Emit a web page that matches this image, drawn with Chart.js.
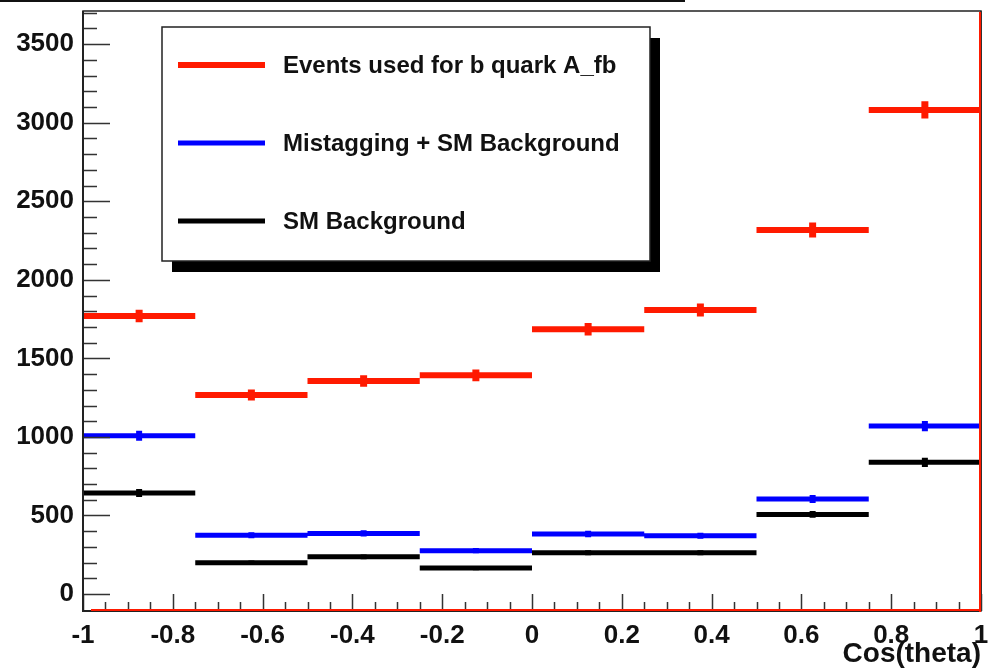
<!DOCTYPE html>
<html>
<head>
<meta charset="utf-8">
<script src="https://cdn.jsdelivr.net/npm/chart.js@4.4.1/dist/chart.umd.min.js"></script>
<style>
  html, body { margin: 0; padding: 0; background: #fff; }
  #wrap { width: 1000px; height: 671px; position: relative; }
</style>
</head>
<body>
<div id="wrap"><canvas id="chart" width="1000" height="671"></canvas></div>
<script>
// bin edges along cos(theta)
const binEdges = [-1, -0.75, -0.5, -0.25, 0, 0.25, 0.5, 0.75, 1];

const seriesLabels = ['Events used for b quark A_fb', 'Mistagging + SM Background', 'SM Background'];
const seriesColors = ['#ff1a00', '#0000ff', '#000000'];

const eventsUsed = [1770, 1267, 1356, 1392, 1685, 1808, 2317, 3081];
const eventsErr = [40, 35, 37, 37, 40, 42, 48, 55];
const mistagBkg = [1008, 374, 386, 276, 382, 371, 605, 1069];
const mistagErr = [32, 19, 20, 17, 20, 19, 25, 33];
const smBkg = [643, 199, 237, 165, 263, 263, 507, 838];
const smErr = [25, 14, 15, 13, 16, 16, 22, 29];

const yTickVals = [0, 500, 1000, 1500, 2000, 2500, 3000, 3500];
const xTickVals = [-1, -0.8, -0.6, -0.4, -0.2, 0, 0.2, 0.4, 0.6, 0.8, 1];
const xTitle = 'Cos(theta)';

const ctx = document.querySelector('#chart').getContext('2d');
const FONT = '"Liberation Sans", Arial, sans-serif';

function histPoints(vals) {
    const pts = [];
    for (let i = 0; i < vals.length; i++) {
        pts.push({ x: binEdges[i], y: vals[i] });
        pts.push({ x: binEdges[i + 1], y: vals[i] });
        pts.push({ x: binEdges[i + 1], y: null });
    }
    return pts;
}

function errPoints(vals, errs) {
    const pts = [];
    for (let i = 0; i < vals.length; i++) {
        const c = (binEdges[i] + binEdges[i + 1]) / 2;
        pts.push({ x: c, y: vals[i] - errs[i] });
        pts.push({ x: c, y: vals[i] + errs[i] });
        pts.push({ x: c, y: null });
    }
    return pts;
}

function lineSet(label, pts, color, width) {
    return {
        label: label,
        data: pts,
        borderColor: color,
        backgroundColor: color,
        borderWidth: width,
        borderCapStyle: 'butt',
        pointRadius: 0,
        spanGaps: false,
        tension: 0
    };
}

const datasets = [
    lineSet(seriesLabels[2], histPoints(smBkg), seriesColors[2], 5),
    lineSet('', errPoints(smBkg, smErr), seriesColors[2], 6),
    lineSet(seriesLabels[1], histPoints(mistagBkg), seriesColors[1], 5),
    lineSet('', errPoints(mistagBkg, mistagErr), seriesColors[1], 6),
    lineSet(seriesLabels[0], histPoints(eventsUsed), seriesColors[0], 6),
    lineSet('', errPoints(eventsUsed, eventsErr), seriesColors[0], 7),
];

// ROOT-style frame, inward ticks and boxed legend with shadow
const rootDecor = {
    id: 'rootDecor',
    afterDatasetsDraw(chart) {
        const c = chart.ctx;
        const a = chart.chartArea;
        const xs = chart.scales.x;
        const ys = chart.scales.y;
        c.save();

        // stray border line at the very top
        c.fillStyle = '#111';
        c.fillRect(0, 0, 685, 2);

        // ticks
        c.strokeStyle = '#333';
        c.lineWidth = 1.5;
        c.beginPath();
        for (let v = 0; v <= 3700; v += 100) {
            const py = Math.round(ys.getPixelForValue(v)) + 0.5;
            if (py < a.top) continue;
            const len = v % 500 === 0 ? 27 : 14;
            c.moveTo(a.left, py);
            c.lineTo(a.left + len, py);
        }
        for (let k = -20; k <= 20; k++) {
            const v = k * 0.05;
            const px = Math.round(xs.getPixelForValue(v)) + 0.5;
            const len = k % 4 === 0 ? 17 : 9;
            c.moveTo(px, a.bottom);
            c.lineTo(px, a.bottom - len);
        }
        c.stroke();

        // frame
        c.strokeStyle = '#222';
        c.lineWidth = 1.5;
        c.strokeRect(a.left, a.top, a.right - a.left, a.bottom - a.top);
        c.fillStyle = '#222';
        c.fillRect(a.left - 1, a.top, 2, a.bottom - a.top + 1);
        c.fillRect(a.left, a.bottom - 1, a.right - a.left, 2);
        c.fillStyle = '#ff1a00';
        c.fillRect(a.right - 2, a.top + 1, 2, a.bottom - a.top);
        c.fillRect(a.left + 8, a.bottom - 2, a.right - a.left - 8, 2);
        c.fillStyle = '#333';
        c.fillRect(a.right, a.top, 1, a.bottom - a.top);

        // legend box
        const bx = 162, by = 27, bw = 488, bh = 234;
        c.fillStyle = '#000';
        c.fillRect(bx + 10, by + 11, bw, bh);
        c.fillStyle = '#fff';
        c.fillRect(bx, by, bw, bh);
        c.strokeStyle = '#222';
        c.lineWidth = 1.5;
        c.strokeRect(bx, by, bw, bh);

        const rowsY = [65, 143, 221];
        const widths = [6, 5, 5];
        c.font = 'bold 24px ' + FONT;
        c.textBaseline = 'middle';
        c.textAlign = 'left';
        for (let i = 0; i < seriesLabels.length; i++) {
            c.fillStyle = seriesColors[i];
            c.fillRect(178, rowsY[i] - widths[i] / 2, 87, widths[i]);
            c.fillStyle = '#111';
            c.fillText(seriesLabels[i], 283, rowsY[i] + 1);
        }
        c.restore();
    }
};

const chart = new Chart(ctx, {
    type: 'line',
    data: { datasets: datasets },
    options: {
        responsive: false,
        animation: false,
        layout: { padding: { top: 11, right: 19, left: 0, bottom: 0 } },
        plugins: {
            legend: { display: false },
            tooltip: { enabled: false }
        },
        scales: {
            x: {
                type: 'linear',
                min: -1,
                max: 1,
                afterBuildTicks: (scale) => { scale.ticks = xTickVals.map(v => ({ value: v })); },
                afterFit: (scale) => {
                    scale.height = 60;
                    scale.paddingLeft = 0;
                    scale.paddingRight = 0;
                },
                grid: { display: false, drawTicks: false },
                border: { display: false },
                ticks: {
                    padding: 9,
                    maxRotation: 0,
                    autoSkip: false,
                    color: '#111',
                    font: { family: FONT, size: 26, weight: 'bold' },
                    callback: (v) => String(Math.round(v * 10) / 10)
                },
                title: {
                    display: true,
                    text: xTitle,
                    align: 'end',
                    color: '#111',
                    padding: { top: 0, bottom: 0 },
                    font: { family: FONT, size: 28, weight: 'bold' }
                }
            },
            y: {
                type: 'linear',
                min: -108,
                max: 3711,
                afterBuildTicks: (scale) => { scale.ticks = yTickVals.map(v => ({ value: v })); },
                afterFit: (scale) => {
                    scale.width = 83;
                    scale.paddingTop = 0;
                    scale.paddingBottom = 0;
                },
                grid: { display: false, drawTicks: false },
                border: { display: false },
                ticks: {
                    padding: 9,
                    autoSkip: false,
                    color: '#111',
                    font: { family: FONT, size: 26, weight: 'bold' },
                    callback: (v) => String(v)
                }
            }
        }
    },
    plugins: [rootDecor]
});
</script>
</body>
</html>
